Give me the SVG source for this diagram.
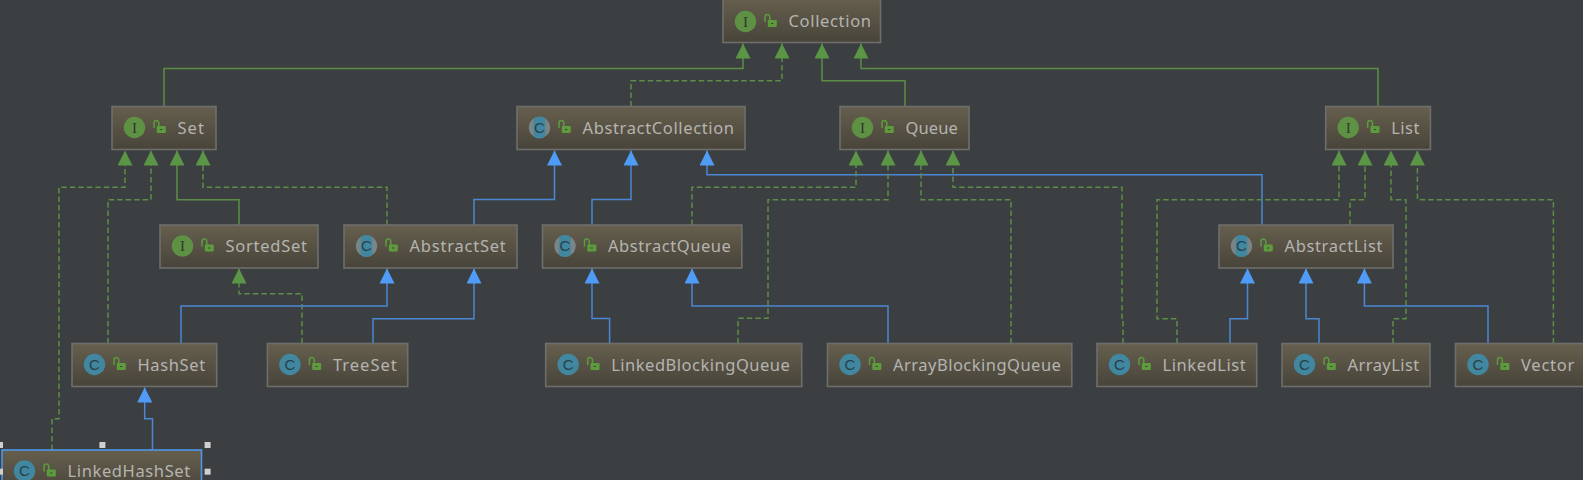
<svg xmlns="http://www.w3.org/2000/svg" width="1583" height="480" viewBox="0 0 1583 480">
<style>
.box{fill:url(#nodeFill);stroke:#6e6e6c;stroke-width:1.6}
.sel{stroke:#4f95e8;stroke-width:1.6}
.label{font-family:"Noto Sans","Liberation Sans",sans-serif;font-size:16.5px;fill:#b4b4b0}
.glyph{font-family:"Liberation Sans",sans-serif;font-size:15px;fill:#28404a;text-anchor:middle}
.glyphI{font-family:"Liberation Serif",serif;font-size:15px;fill:#2f3a2a;text-anchor:middle}
.ci{fill:#5e9144}.cc{fill:#40879f}.ca{fill:#7a8587}
.g,.gd{fill:none;stroke:#5b8d46;stroke-width:1.5;marker-end:url(#ag)}
.gd{stroke-dasharray:5.5 3}
.b{fill:none;stroke:#4a87d4;stroke-width:1.5;marker-end:url(#ab)}
.handle{fill:#cfcfcf}
</style>
<defs>
<linearGradient id="nodeFill" x1="0" y1="0" x2="0" y2="1"><stop offset="0" stop-color="#665f4e"/><stop offset="1" stop-color="#48443a"/></linearGradient>
<marker id="ag" viewBox="0 0 15 15" refX="15" refY="7.5" markerWidth="15" markerHeight="15" markerUnits="userSpaceOnUse" orient="auto"><path d="M15,7.5L0,0V15Z" fill="#5a9646"/></marker>
<marker id="ab" viewBox="0 0 15 15" refX="15" refY="7.5" markerWidth="15" markerHeight="15" markerUnits="userSpaceOnUse" orient="auto"><path d="M15,7.5L0,0V15Z" fill="#4f9bf5"/></marker>
<g id="lock"><path d="M-5.5,1V-4a2.4,2.4 0 0 1 4.8,0V0" fill="none" stroke="#5c9c3c" stroke-width="1.5"/><rect x="-2.7" y="-1" width="9" height="7" rx="1" fill="#5c9c3c"/><rect x="0.6" y="2" width="2.2" height="1" fill="#3c3f41"/></g>
<g id="iconI"><circle r="10.7" class="ci"/></g>
<g id="iconC"><circle r="10.7" class="cc"/></g>
<g id="iconA"><circle r="10.7" class="ca"/><rect x="-5.8" y="-10.7" width="11.6" height="21.4" rx="4" fill="#40879f"/></g>
</defs>
<rect width="1583" height="480" fill="#3c3f41"/>
<g id="connectors">
<path class="g" d="M164,106.5V68.5H743V43.5"/>
<path class="gd" d="M631,106.5V80.7H782V43.5"/>
<path class="g" d="M905,106.5V80.7H822V43.5"/>
<path class="g" d="M1378,106.5V68.5H861V43.5"/>
<path class="gd" d="M52,450V418.7H59V187.3H125V150.5"/>
<path class="gd" d="M108,343.5V199.7H151V150.5"/>
<path class="g" d="M239,225V199.7H177V150.5"/>
<path class="gd" d="M387,225V187.3H203V150.5"/>
<path class="b" d="M474,225V199.5H554.5V150.5"/>
<path class="b" d="M592,225V199.5H631V150.5"/>
<path class="b" d="M1262,225V174.7H707V150.5"/>
<path class="gd" d="M692,225V187.3H856V150.5"/>
<path class="gd" d="M738,343.5V318.3H768V199.7H888V150.5"/>
<path class="gd" d="M1011,343.5V199.7H921V150.5"/>
<path class="gd" d="M1123,343.5V318H1122V187.3H953V150.5"/>
<path class="gd" d="M1177,343.5V318.7H1157V199.7H1339V150.5"/>
<path class="gd" d="M1350,225V199.7H1365V150.5"/>
<path class="gd" d="M1393,343.5V318.7H1406V199.7H1391V150.5"/>
<path class="gd" d="M1553.4,343.5V199.7H1417.4V150.5"/>
<path class="gd" d="M302,343.5V293.7H239V268.5"/>
<path class="b" d="M181,343.5V306H387V268.5"/>
<path class="b" d="M373,343.5V318.7H474V268.5"/>
<path class="b" d="M609.6,343.5V318.5H592V268.5"/>
<path class="b" d="M888,343.5V306H692V268.5"/>
<path class="b" d="M1230,343.5V318.7H1247.5V268.5"/>
<path class="b" d="M1319,343.5V318.7H1306V268.5"/>
<path class="b" d="M1488,343.5V306H1364.4V268.5"/>
<path class="b" d="M152.5,450V418.7H144.7V387.5"/>
</g>
<g id="node-collection" transform="translate(723,0)"><rect class="box" y="-2" width="157.5" height="44.5"/><use href="#iconI" x="22.5" y="21.5"/><text class="glyphI" x="22.5" y="26.5">I</text><use href="#lock" x="47.5" y="21"/><text class="label" x="65.5" y="27" textLength="82.5">Collection</text></g>
<g id="node-set" transform="translate(112,106.5)"><rect class="box" width="104" height="43"/><use href="#iconI" x="22.5" y="21"/><text class="glyphI" x="22.5" y="26">I</text><use href="#lock" x="47.5" y="20.5"/><text class="label" x="65.5" y="27" textLength="26.4">Set</text></g>
<g id="node-abstractcollection" transform="translate(517,106.5)"><rect class="box" width="228" height="43"/><use href="#iconA" x="22.5" y="21"/><text class="glyph" x="22.5" y="26.3">C</text><use href="#lock" x="47.5" y="20.5"/><text class="label" x="65.5" y="27" textLength="151.5">AbstractCollection</text></g>
<g id="node-queue" transform="translate(840,106.5)"><rect class="box" width="129" height="43"/><use href="#iconI" x="22.5" y="21"/><text class="glyphI" x="22.5" y="26">I</text><use href="#lock" x="47.5" y="20.5"/><text class="label" x="65.5" y="27" textLength="52.4">Queue</text></g>
<g id="node-list" transform="translate(1325.7,106.5)"><rect class="box" width="104.7" height="43"/><use href="#iconI" x="22.5" y="21"/><text class="glyphI" x="22.5" y="26">I</text><use href="#lock" x="47.5" y="20.5"/><text class="label" x="65.5" y="27" textLength="28.2">List</text></g>
<g id="node-sortedset" transform="translate(160,225)"><rect class="box" width="158" height="43"/><use href="#iconI" x="22.5" y="21"/><text class="glyphI" x="22.5" y="26">I</text><use href="#lock" x="47.5" y="20.5"/><text class="label" x="65.5" y="27" textLength="81.5">SortedSet</text></g>
<g id="node-abstractset" transform="translate(344,225)"><rect class="box" width="173" height="43"/><use href="#iconA" x="22.5" y="21"/><text class="glyph" x="22.5" y="26.3">C</text><use href="#lock" x="47.5" y="20.5"/><text class="label" x="65.5" y="27" textLength="96.3">AbstractSet</text></g>
<g id="node-abstractqueue" transform="translate(542.5,225)"><rect class="box" width="199.3" height="43"/><use href="#iconA" x="22.5" y="21"/><text class="glyph" x="22.5" y="26.3">C</text><use href="#lock" x="47.5" y="20.5"/><text class="label" x="65.5" y="27" textLength="122.9">AbstractQueue</text></g>
<g id="node-abstractlist" transform="translate(1219,225)"><rect class="box" width="174" height="43"/><use href="#iconA" x="22.5" y="21"/><text class="glyph" x="22.5" y="26.3">C</text><use href="#lock" x="47.5" y="20.5"/><text class="label" x="65.5" y="27" textLength="97.9">AbstractList</text></g>
<g id="node-hashset" transform="translate(72,343.5)"><rect class="box" width="144.7" height="43"/><use href="#iconC" x="22.5" y="21"/><text class="glyph" x="22.5" y="26.3">C</text><use href="#lock" x="47.5" y="20.5"/><text class="label" x="65.5" y="27" textLength="67.6">HashSet</text></g>
<g id="node-treeset" transform="translate(267.4,343.5)"><rect class="box" width="140.3" height="43"/><use href="#iconC" x="22.5" y="21"/><text class="glyph" x="22.5" y="26.3">C</text><use href="#lock" x="47.5" y="20.5"/><text class="label" x="65.5" y="27" textLength="63.9">TreeSet</text></g>
<g id="node-linkedblockingqueue" transform="translate(545.7,343.5)"><rect class="box" width="256" height="43"/><use href="#iconC" x="22.5" y="21"/><text class="glyph" x="22.5" y="26.3">C</text><use href="#lock" x="47.5" y="20.5"/><text class="label" x="65.5" y="27" textLength="178.6">LinkedBlockingQueue</text></g>
<g id="node-arrayblockingqueue" transform="translate(827.5,343.5)"><rect class="box" width="244.3" height="43"/><use href="#iconC" x="22.5" y="21"/><text class="glyph" x="22.5" y="26.3">C</text><use href="#lock" x="47.5" y="20.5"/><text class="label" x="65.5" y="27" textLength="167.9">ArrayBlockingQueue</text></g>
<g id="node-linkedlist" transform="translate(1097,343.5)"><rect class="box" width="159.7" height="43"/><use href="#iconC" x="22.5" y="21"/><text class="glyph" x="22.5" y="26.3">C</text><use href="#lock" x="47.5" y="20.5"/><text class="label" x="65.5" y="27" textLength="83.3">LinkedList</text></g>
<g id="node-arraylist" transform="translate(1282,343.5)"><rect class="box" width="148" height="43"/><use href="#iconC" x="22.5" y="21"/><text class="glyph" x="22.5" y="26.3">C</text><use href="#lock" x="47.5" y="20.5"/><text class="label" x="65.5" y="27" textLength="71.7">ArrayList</text></g>
<g id="node-vector" transform="translate(1455.5,343.5)"><rect class="box" width="140" height="43"/><use href="#iconC" x="22.5" y="21"/><text class="glyph" x="22.5" y="26.3">C</text><use href="#lock" x="47.5" y="20.5"/><text class="label" x="65.5" y="27" textLength="53.4">Vector</text></g>
<g id="node-linkedhashset" transform="translate(2,450)"><rect class="box sel" width="199.5" height="43"/><use href="#iconC" x="22.5" y="21"/><text class="glyph" x="22.5" y="26.3">C</text><use href="#lock" x="47.5" y="20.5"/><text class="label" x="65.5" y="27" textLength="122.7">LinkedHashSet</text></g>
<g id="selection-handles">
<rect class="handle" x="-3" y="442" width="6" height="6"/><rect class="handle" x="99.4" y="442" width="6" height="6"/><rect class="handle" x="204.6" y="442" width="6" height="6"/><rect class="handle" x="-3" y="468.7" width="6" height="6"/><rect class="handle" x="204.6" y="468.7" width="6" height="6"/>
</g>
</svg>
